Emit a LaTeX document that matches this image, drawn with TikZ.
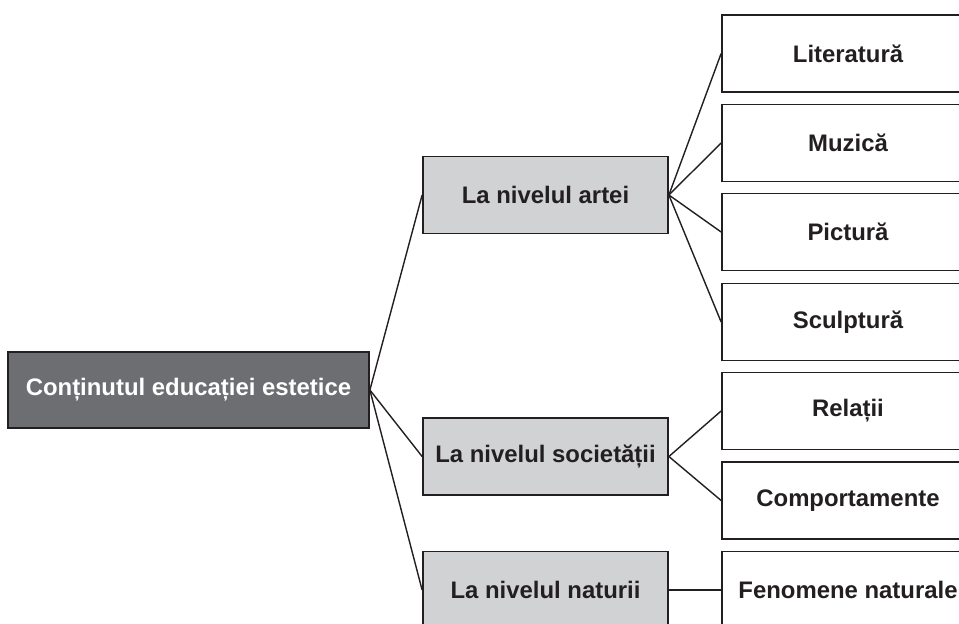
\documentclass[tikz,border=0pt]{standalone}
\usepackage{fontspec}
\setmainfont{Liberation Sans}
\definecolor{inkgray}{HTML}{231F20}
\definecolor{rootgray}{HTML}{6D6E71}
\definecolor{levelgray}{HTML}{D1D2D4}
\tikzset{
  rootbox/.style={rectangle,draw=inkgray,fill=rootgray,line width=1pt,
    minimum width=7.22cm,minimum height=1.52cm,text=white,
    font=\fontsize{13.6}{16}\selectfont\bfseries},
  levelbox/.style={rectangle,draw=inkgray,fill=levelgray,line width=1pt,
    minimum width=4.90cm,minimum height=1.54cm,text=inkgray,
    font=\fontsize{13.6}{16}\selectfont\bfseries},
  itembox/.style={rectangle,draw=inkgray,fill=white,line width=1pt,
    minimum width=5.04cm,minimum height=1.54cm,text=inkgray,
    font=\fontsize{13.6}{16}\selectfont\bfseries},
  link/.style={draw=inkgray,line width=0.8pt}
}
\begin{document}
\begin{tikzpicture}
        \useasboundingbox (0,0) rectangle (19.18,-12.48);

        \node[rootbox]  (C)   at  ( 3.77, -7.80) {Conținutul educației estetice};

        \node[levelbox] (A)   at  (10.91, -3.90) {La nivelul artei};
        \node[levelbox] (S)   at  (10.91, -9.13) {La nivelul societății};
        \node[levelbox] (N)   at  (10.91,-11.80) {La nivelul naturii};

        \node[itembox]  (A1)  at  (16.96, -1.07) {Literatură};
        \node[itembox]  (A2)  at  (16.96, -2.86) {Muzică};
        \node[itembox]  (A3)  at  (16.96, -4.64) {Pictură};
        \node[itembox]  (A4)  at  (16.96, -6.44) {Sculptură};
        \node[itembox]  (S1)  at  (16.96, -8.22) {Relații};
        \node[itembox]  (S2)  at  (16.96,-10.01) {Comportamente};
        \node[itembox]  (N1)  at  (16.96,-11.80) {Fenomene naturale};

        \draw[link]  (C.east) to (A.west);
        \draw[link]  (C.east) to (S.west);
        \draw[link]  (C.east) to (N.west);

        \foreach \k in {A1,A2,A3,A4}
          \draw[link] (A.east) to (\k.west);
        \foreach \k in {S1,S2}
          \draw[link] (S.east) to (\k.west);
        \draw[link]  (N.east) to (N1.west);
      \end{tikzpicture}
\end{document}
